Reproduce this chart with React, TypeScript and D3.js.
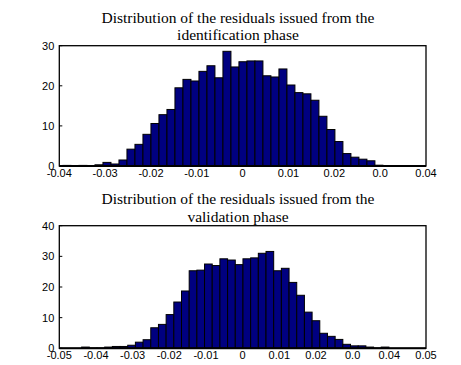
import React from "react";
import * as d3 from "d3";

// ---- data ----
const idBinStart = -0.0392;
const idBinWidth = 0.001745;
const idCounts = [
  0.15, 0.1, 0.15, 0.1,
  0.3, 0.9, 0.5, 1.5, 4.2, 5.4, 7.9, 10.6, 12.8, 14.1, 19.5, 21.6, 21.2, 23.6, 25.0,
  22.0, 28.6, 24.7, 26.0, 26.2, 26.2, 22.5, 22.2, 24.2, 20.2, 18.3, 18.0, 16.4, 12.4,
  9.1, 6.1, 3.1, 2.2, 1.7, 1.3,
  0.2, 0, 0, 0, 0, 0,
];
const idXTicks = [-0.04, -0.03, -0.02, -0.01, 0, 0.01, 0.02, 0.03, 0.04];
const idXLabels = ["-0.04", "-0.03", "-0.02", "-0.01", "0", "0.01", "0.02", "0.0", "0.04"];
const idYTicks = [0, 10, 20, 30];
const idTitle = ["Distribution of the residuals issued from the", "identification phase"];

const valBinStart = -0.0481;
const valBinWidth = 0.002095;
const valCounts = [
  0, 0, 0.4, 0.1, 0.1, 0.4, 0.6, 0.6, 1.0, 2.0, 2.8, 6.7, 7.8, 11.0, 15.1, 18.7,
  25.3, 25.5, 27.5, 27.0, 29.2, 28.8, 27.3, 29.2, 29.5, 31.0, 31.6, 25.3, 26.1, 21.5,
  17.3, 11.8, 9.0, 4.9, 3.9, 2.9, 1.3, 0.8, 0.8, 0.4, 0.1, 0.4, 0, 0, 0, 0, 0,
];
const valXTicks = [-0.05, -0.04, -0.03, -0.02, -0.01, 0, 0.01, 0.02, 0.03, 0.04, 0.05];
const valXLabels = ["-0.05", "-0.04", "-0.03", "-0.02", "-0.01", "0", "0.01", "0.02", "0.0", "0.04", "0.05"];
const valYTicks = [0, 10, 20, 30, 40];
const valTitle = ["Distribution of the residuals issued from the", "validation phase"];

const W = 461;
const H = 365;
const BAR = "#000080";

type PanelProps = {
  id: string;
  x0: number; x1: number; y0: number; y1: number;
  xDomain: [number, number];
  yMax: number;
  binStart: number; binWidth: number; counts: number[];
  xTicks: number[]; xLabels: string[]; yTicks: number[];
  title: string[]; titleY: [number, number];
};

function Panel(p: PanelProps) {
  const x = d3.scaleLinear().domain(p.xDomain).range([p.x0, p.x1]);
  const y = d3.scaleLinear().domain([0, p.yMax]).range([p.y1, p.y0]);
  const bw = x(p.binWidth) - x(0);
  const tx = 238;
  return (
    <g>
      <defs>
        <clipPath id={p.id}>
          <rect x={p.x0} y={p.y0} width={p.x1 - p.x0} height={p.y1 - p.y0} />
        </clipPath>
      </defs>
      <text x={tx} y={p.titleY[0]} textAnchor="middle" fontFamily="'Liberation Serif', 'Times New Roman', serif" fontSize={15.5} fill="#000">{p.title[0]}</text>
      <text x={tx} y={p.titleY[1]} textAnchor="middle" fontFamily="'Liberation Serif', 'Times New Roman', serif" fontSize={15.5} fill="#000">{p.title[1]}</text>
      <g clipPath={`url(#${p.id})`}>
        {p.counts.map((c, i) => {
          const left = x(p.binStart + i * p.binWidth);
          return (
            <rect key={i} x={left} y={y(c)} width={bw} height={y(0) - y(c)}
              fill={BAR} stroke="#000" strokeWidth={1} />
          );
        })}
      </g>
      {p.yTicks.map((t) => (
        <g key={t}>
          <line x1={p.x0} x2={p.x0 + 3} y1={y(t)} y2={y(t)} stroke="#000" strokeWidth={1} />
          <text x={p.x0 - 5} y={y(t)} dy="0.35em" textAnchor="end" fontFamily="'Liberation Sans', Arial, sans-serif" fontSize={11} fill="#000">{t}</text>
        </g>
      ))}
      {p.xTicks.map((t, i) => (
        <text key={i} x={x(t)} y={p.y1 + 10.5} textAnchor="middle" fontFamily="'Liberation Sans', Arial, sans-serif" fontSize={11} fill="#000">{p.xLabels[i]}</text>
      ))}
      <rect x={p.x0} y={p.y0} width={p.x1 - p.x0} height={p.y1 - p.y0} fill="none" stroke="#000" strokeWidth={1.3} />
      <line x1={p.x0} x2={p.x1} y1={p.y1} y2={p.y1} stroke="#000" strokeWidth={2} />
    </g>
  );
}

export default function App() {
  return (
    <svg width={W} height={H} style={{ position: "absolute", left: 0, top: 0, background: "#fff" }}>
      <rect x={0} y={0} width={W} height={H} fill="#fff" />
      <Panel id="c1" x0={59.3} x1={426} y0={45.7} y1={166} xDomain={[-0.04, 0.04]} yMax={30}
        binStart={idBinStart} binWidth={idBinWidth} counts={idCounts}
        xTicks={idXTicks} xLabels={idXLabels} yTicks={idYTicks}
        title={idTitle} titleY={[23.3, 39.5]} />
      <Panel id="c2" x0={59.3} x1={426} y0={225.7} y1={348.3} xDomain={[-0.05, 0.05]} yMax={40}
        binStart={valBinStart} binWidth={valBinWidth} counts={valCounts}
        xTicks={valXTicks} xLabels={valXLabels} yTicks={valYTicks}
        title={valTitle} titleY={[204, 221.6]} />
    </svg>
  );
}
